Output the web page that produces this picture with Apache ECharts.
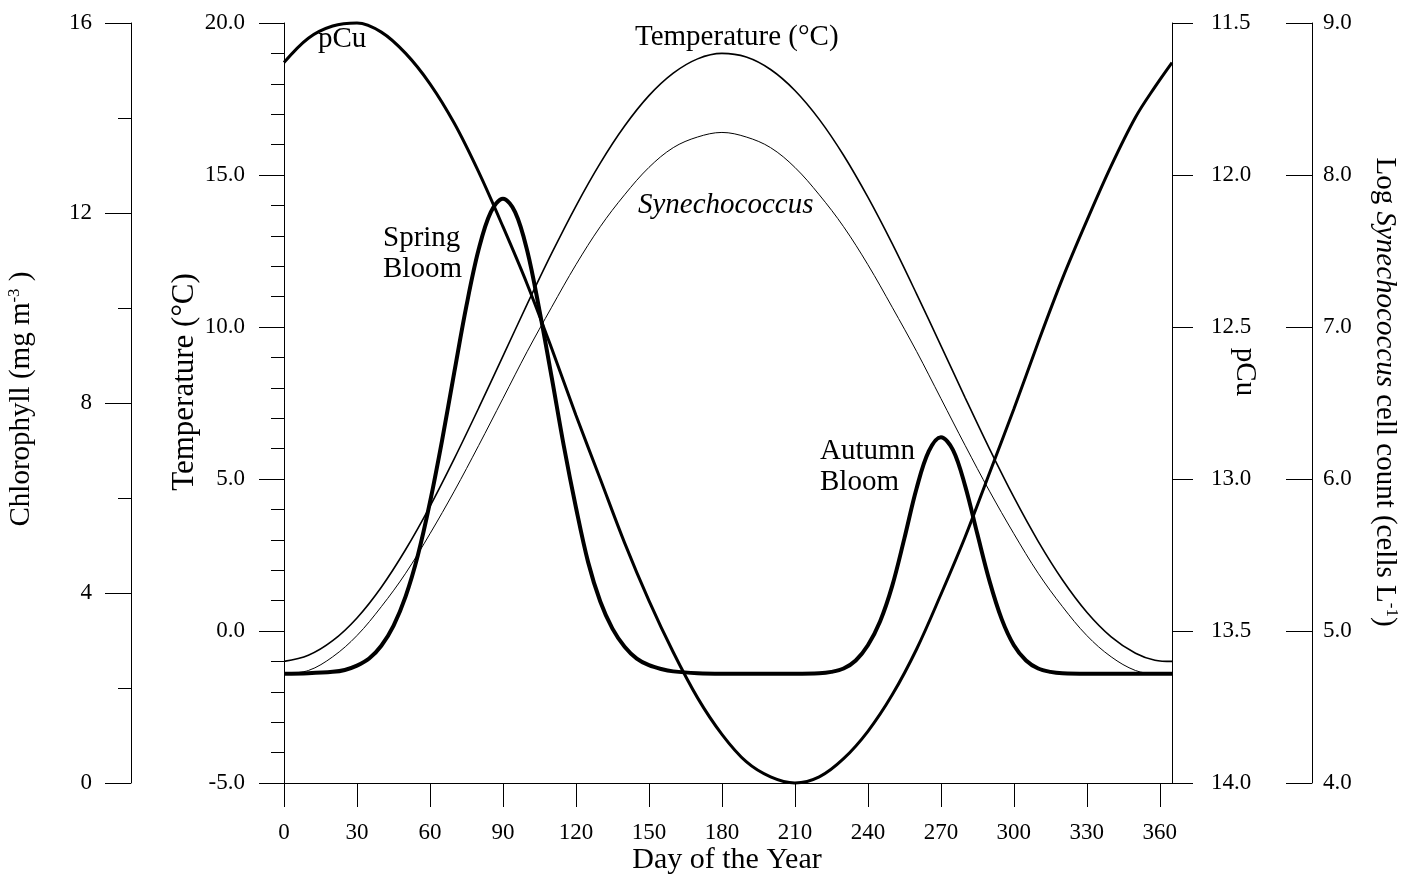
<!DOCTYPE html>
<html>
<head>
<meta charset="utf-8">
<script src="https://cdn.jsdelivr.net/npm/echarts@6/dist/echarts.min.js"></script>
<style>
  html, body { margin: 0; padding: 0; background: #fff; }
  #chart { width: 1403px; height: 876px; }
</style>
</head>
<body>
<div id="chart"></div>
<script>
// Seasonal cycle: day of year vs temperature, pCu, chlorophyll and Synechococcus
const dayTicks = [0, 30, 60, 90, 120, 150, 180, 210, 240, 270, 300, 330, 360];

const cycleDays = [0, 10, 20, 30, 40, 50, 60, 70, 80, 90, 100, 110, 120, 130, 140, 150, 160, 170, 180,
  190, 200, 210, 220, 230, 240, 250, 260, 270, 280, 290, 300, 310, 320, 330, 340, 350, 358, 365];

const temperature = [-1.00, -0.80, -0.32, 0.43, 1.44, 2.68, 4.10, 5.67, 7.33, 9.04, 10.76, 12.42, 13.98,
  15.39, 16.61, 17.61, 18.35, 18.82, 19.00, 18.88, 18.47, 17.78, 16.83, 15.65, 14.27, 12.74, 11.09, 9.39,
  7.67, 5.99, 4.40, 2.95, 1.68, 0.62, -0.19, -0.73, -0.96, -1.00];

const pCu = [11.63, 11.55, 11.51, 11.50, 11.53, 11.60, 11.70, 11.83, 11.99, 12.17, 12.36, 12.57, 12.79,
  13.00, 13.21, 13.40, 13.57, 13.72, 13.84, 13.93, 13.98, 14.00, 13.98, 13.92, 13.83, 13.71, 13.56, 13.38,
  13.19, 12.98, 12.77, 12.55, 12.34, 12.15, 11.97, 11.81, 11.71, 11.63];

const logSynechococcus = [4.72, 4.74, 4.83, 4.97, 5.16, 5.38, 5.64, 5.92, 6.22, 6.53, 6.84, 7.13, 7.41,
  7.66, 7.87, 8.05, 8.18, 8.25, 8.28, 8.25, 8.18, 8.05, 7.87, 7.66, 7.41, 7.13, 6.84, 6.53, 6.22, 5.92,
  5.64, 5.38, 5.16, 4.97, 4.83, 4.74, 4.72, 4.72];

const chlDays = [0, 10, 20, 25, 30, 35, 40, 45, 50, 55, 60, 65, 70, 75, 80, 85, 90, 95, 100, 105, 110,
  115, 120, 125, 130, 135, 140, 145, 150, 155, 160, 170, 180, 190, 200, 210, 220, 225, 230, 235, 240, 245,
  250, 255, 260, 265, 270, 275, 280, 285, 290, 295, 300, 305, 310, 315, 320, 330, 340, 350, 365];

const chlorophyll = [2.30, 2.31, 2.34, 2.38, 2.47, 2.62, 2.89, 3.31, 3.93, 4.79, 5.91, 7.22, 8.65, 10.05,
  11.23, 12.02, 12.30, 12.02, 11.20, 9.95, 8.55, 7.10, 5.80, 4.65, 3.82, 3.25, 2.87, 2.62, 2.48, 2.40,
  2.35, 2.31, 2.30, 2.30, 2.30, 2.30, 2.31, 2.34, 2.41, 2.58, 2.90, 3.40, 4.15, 5.15, 6.20, 6.98, 7.28,
  7.01, 6.25, 5.24, 4.25, 3.45, 2.90, 2.58, 2.41, 2.34, 2.31, 2.30, 2.30, 2.30, 2.30];

const FONT = '"Liberation Serif", "Times New Roman", serif';
const INK = '#000';

const pairs = (xs, ys) => xs.map((d, i) => [d, ys[i]]);

const axisLine = { show: true, onZero: false, lineStyle: { color: INK, width: 1 } };
const tickLabel = { color: INK, fontFamily: FONT, fontSize: 23 };

const chart = echarts.init(document.getElementById('chart'), null, { renderer: 'canvas' });

function lineSeries(name, xs, ys, axis, width, z) {
  return {
    name, type: 'line', yAxisIndex: axis, data: pairs(xs, ys),
    smooth: 0.35, showSymbol: false, symbol: 'none', z,
    lineStyle: { color: INK, width }, clip: false, animation: false
  };
}

const plainText = (text, x, y, extra) => ({
  type: 'text', x, y, silent: true,
  style: Object.assign({ text, fill: INK, font: '29px ' + FONT, textAlign: 'left', textVerticalAlign: 'middle' }, extra || {})
});

const rotatedTitle = (text, x, y, rotation, rich, size) => ({
  type: 'text', x, y, rotation, silent: true,
  style: { text, fill: INK, font: (size || 29) + 'px ' + FONT, textAlign: 'center', textVerticalAlign: 'middle', rich }
});

const supRich = {
  sup: { fontSize: 17, fontFamily: FONT, fill: INK, verticalAlign: 'top', padding: [0, 0, 10, 0] },
  i: { fontSize: 29, fontFamily: FONT, fontStyle: 'italic', fill: INK }
};

chart.setOption({
  backgroundColor: '#fff',
  animation: false,
  grid: { left: 284, right: 231, top: 23, bottom: 93, outerBoundsMode: 'none', containLabel: false },
  xAxis: {
    type: 'value', min: 0, max: 365,
    axisLine,
    axisTick: { show: true, length: 24, customValues: dayTicks, lineStyle: { color: INK } },
    axisLabel: Object.assign({ margin: 38, customValues: dayTicks }, tickLabel),
    splitLine: { show: false }
  },
  yAxis: [
    {
      type: 'value', position: 'left', offset: 0, min: -5, max: 20, interval: 5,
      axisLine,
      axisTick: { show: true, length: 25, lineStyle: { color: INK } },
      minorTick: { show: true, splitNumber: 5, length: 13, lineStyle: { color: INK } },
      axisLabel: Object.assign({ margin: 39, formatter: v => v.toFixed(1) }, tickLabel),
      splitLine: { show: false }
    },
    {
      type: 'value', position: 'left', offset: 153, min: 0, max: 16, interval: 4,
      axisLine,
      axisTick: { show: true, length: 26, lineStyle: { color: INK } },
      minorTick: { show: true, splitNumber: 2, length: 13, lineStyle: { color: INK } },
      axisLabel: Object.assign({ margin: 39 }, tickLabel),
      splitLine: { show: false }
    },
    {
      type: 'value', position: 'right', offset: 0, min: 11.5, max: 14, interval: 0.5, inverse: true,
      axisLine,
      axisTick: { show: true, length: 21, lineStyle: { color: INK } },
      axisLabel: Object.assign({ margin: 39, formatter: v => v.toFixed(1) }, tickLabel),
      splitLine: { show: false }
    },
    {
      type: 'value', position: 'right', offset: 140, min: 4, max: 9, interval: 1,
      axisLine,
      axisTick: { show: true, inside: true, length: 26, lineStyle: { color: INK } },
      axisLabel: Object.assign({ margin: 11, formatter: v => v.toFixed(1) }, tickLabel),
      splitLine: { show: false }
    }
  ],
  series: [
    lineSeries('Synechococcus', cycleDays, logSynechococcus, 3, 1, 2),
    lineSeries('Temperature', cycleDays, temperature, 0, 1.6, 3),
    lineSeries('pCu', cycleDays, pCu, 2, 3, 4),
    lineSeries('Chlorophyll', chlDays, chlorophyll, 1, 4, 5)
  ],
  graphic: [
    plainText('pCu', 318, 39),
    plainText('Temperature (°C)', 635, 37),
    plainText('Synechococcus', 638, 205, { font: 'italic 29px ' + FONT }),
    plainText('Spring', 383, 238),
    plainText('Bloom', 383, 269),
    plainText('Autumn', 820, 451),
    plainText('Bloom', 820, 482),
    rotatedTitle('Chlorophyll (mg m{sup|-3} )', 21, 399, Math.PI / 2, supRich),
    rotatedTitle('Temperature (°C)', 185, 382, Math.PI / 2, null, 31),
    rotatedTitle('pCu', 1245, 372, -Math.PI / 2),
    rotatedTitle('Log {i|Synechococcus} cell count (cells L{sup|-1})', 1385, 392, -Math.PI / 2, supRich),
    {
      type: 'text', x: 727, y: 860, silent: true,
      style: { text: 'Day of the Year', fill: INK, font: '30px ' + FONT, textAlign: 'center', textVerticalAlign: 'middle' }
    }
  ]
});
</script>
</body>
</html>
